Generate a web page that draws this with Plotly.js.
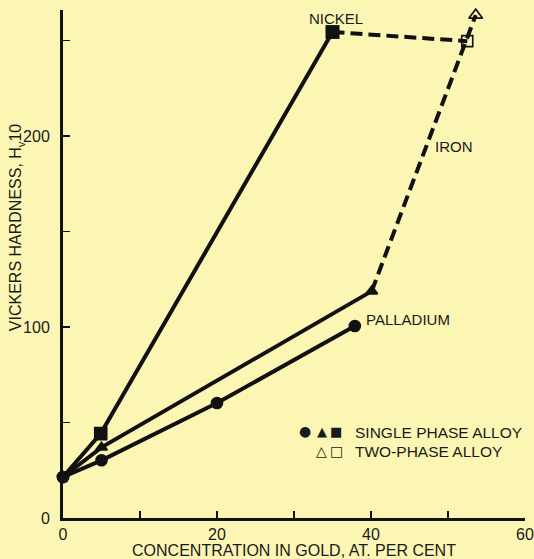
<!DOCTYPE html>
<html><head><meta charset="utf-8">
<script src="https://cdn.plot.ly/plotly-3.0.1.min.js"></script>
<style>html,body{margin:0;padding:0;background:#fcf6b4;}</style>
</head><body><div id="chart" style="width:534px;height:559px;"></div>
<script>
// Nickel
const nickelX = [0, 4.9, 35];
const nickelY = [21.5, 44.2, 254.5];
const nickelDashX = [35, 52.5];
const nickelDashY = [254.5, 249.7];
// Iron
const ironX = [0, 5, 40.1];
const ironY = [21.5, 37, 118.8];
const ironDashX = [40.1, 53.6];
const ironDashY = [118.8, 263.3];
// Palladium
const pdX = [0, 5, 20, 37.9];
const pdY = [21.5, 30.2, 60.2, 100.5];

const xTickVals = [0, 20, 40, 60];
const yTickVals = [0, 100, 200];

const ink = '#111111';
const lw = 4;
const dash = '12px,6px';

function mk(symbols, sizes) {
  return {symbol: symbols, size: sizes, color: ink, opacity: 1, line: {width: 1.6, color: ink}};
}

const traces = [
  {x: nickelX, y: nickelY, mode: 'lines+markers', line: {color: ink, width: lw},
   marker: mk(['circle', 'square', 'square'], [11, 12, 12]), cliponaxis: false},
  {x: nickelDashX, y: nickelDashY, mode: 'lines+markers', line: {color: ink, width: lw, dash: dash},
   marker: mk(['square', 'square-open'], [12, 11]), cliponaxis: false},
  {x: ironX, y: ironY, mode: 'lines+markers', line: {color: ink, width: lw},
   marker: mk(['circle', 'triangle-up', 'triangle-up'], [11, 10, 10]), cliponaxis: false},
  {x: ironDashX, y: ironDashY, mode: 'lines+markers', line: {color: ink, width: lw, dash: dash},
   marker: mk(['triangle-up', 'triangle-up-open'], [10, 12]), cliponaxis: false},
  {x: pdX, y: pdY, mode: 'lines+markers', line: {color: ink, width: lw},
   marker: mk('circle', 11), cliponaxis: false}
];

const font = {family: 'Liberation Sans, Arial, sans-serif', color: '#1a1a1a', size: 15};

const layout = {
  width: 534, height: 559,
  paper_bgcolor: '#fcf6b4', plot_bgcolor: '#fcf6b4',
  margin: {l: 63, r: 9, t: 10, b: 41},
  showlegend: false,
  font: font,
  xaxis: {range: [0, 60], tickvals: xTickVals, ticks: 'inside', ticklen: 7,
    tickwidth: 1.5, tickcolor: ink, showline: true, linecolor: ink, linewidth: 3, showgrid: false,
    minor: {tickvals: [10, 30, 50], ticks: 'inside', ticklen: 7, tickwidth: 1.5, tickcolor: ink, showgrid: false},
    zeroline: false, tickfont: {size: 16}, title: {text: 'CONCENTRATION IN GOLD, AT. PER CENT', font: {size: 16}, standoff: 0}},
  yaxis: {range: [0, 266], tickvals: yTickVals, ticks: 'inside', ticklen: 7, ticklabelstandoff: 7,
    tickwidth: 1.5, tickcolor: ink, showline: true, linecolor: ink, linewidth: 3, showgrid: false,
    minor: {tickvals: [50, 150, 250], ticks: 'inside', ticklen: 7, tickwidth: 1.5, tickcolor: ink, showgrid: false},
    zeroline: false, tickfont: {size: 16}},
  annotations: [
    {xref: 'paper', yref: 'paper', x: -0.099, y: 0.573, text: 'VICKERS HARDNESS, H<sub>v</sub>10',
     textangle: -90, showarrow: false, xanchor: 'center', yanchor: 'middle', font: {size: 16}},
    {x: 35.5, y: 261.8, text: 'NICKEL', showarrow: false, font: {size: 15}},
    {x: 50.8, y: 194.3, text: 'IRON', showarrow: false, font: {size: 15}},
    {x: 44.8, y: 103.7, text: 'PALLADIUM', showarrow: false, font: {size: 15}},
    {x: 31.4, y: 45.5, text: '●', showarrow: false, font: {size: 14, family: 'DejaVu Sans'}},
    {x: 33.6, y: 45.5, text: '▲', showarrow: false, font: {size: 13, family: 'DejaVu Sans'}},
    {x: 35.5, y: 45.5, text: '■', showarrow: false, font: {size: 13, family: 'DejaVu Sans'}},
    {x: 37.6, y: 45, text: 'SINGLE PHASE ALLOY', showarrow: false, xanchor: 'left', font: {size: 15.5}},
    {x: 33.6, y: 35, text: '△', showarrow: false, font: {size: 14, family: 'DejaVu Sans'}},
    {x: 35.5, y: 35, text: '□', showarrow: false, font: {size: 14, family: 'DejaVu Sans'}},
    {x: 37.7, y: 34.8, text: 'TWO-PHASE ALLOY', showarrow: false, xanchor: 'left', font: {size: 15.5}}
  ]
};

Plotly.newPlot('chart', traces, layout, {displayModeBar: false, staticPlot: true});
</script></body></html>
